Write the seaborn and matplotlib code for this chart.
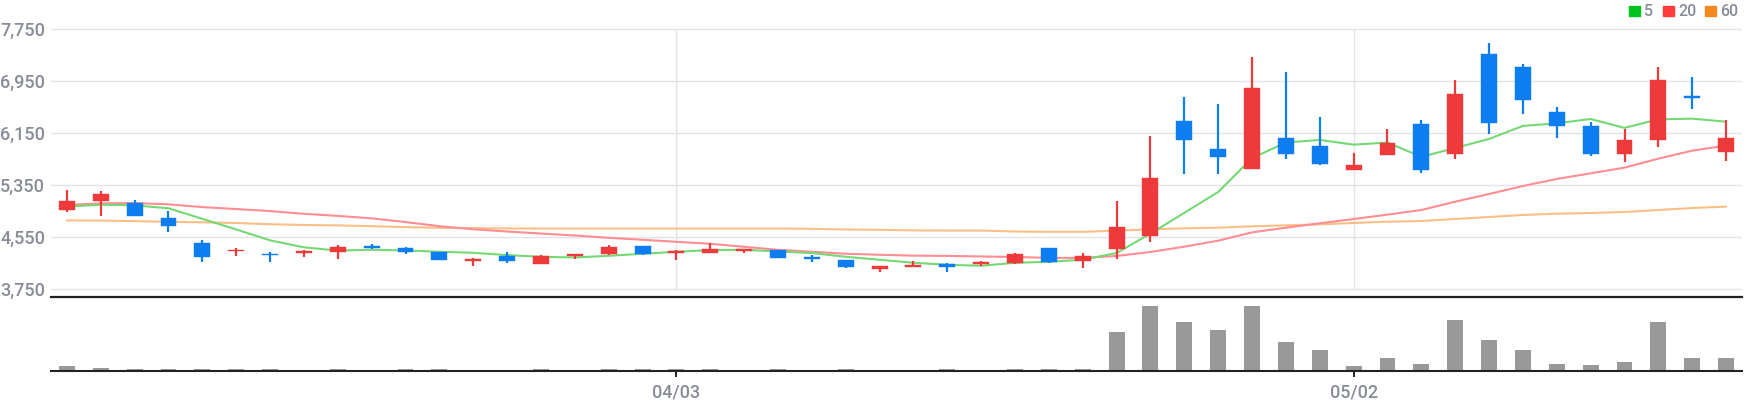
import matplotlib
matplotlib.use("Agg")
import matplotlib.pyplot as plt
import matplotlib.patches as mpatches
import numpy as np
import pandas as pd
import seaborn as sns

# ---------------- data ----------------
opens = [4970, 5095, 5075, 4845, 4460, 4330, 4290, 4310, 4325, 4415,
         4385, 4320, 4185, 4260, 4140, 4260, 4290, 4415, 4305, 4305,
         4335, 4350, 4245, 4200, 4060, 4090, 4140, 4140, 4150, 4380,
         4180, 4365, 4565, 6330, 5900, 5590, 6070, 5950, 5580, 5810,
         6280, 5820, 7360, 7160, 6470, 6250, 5820, 6040, 6710, 5860]
highs = [5275, 5260, 5120, 4955, 4505, 4385, 4320, 4355, 4430, 4445,
         4400, 4320, 4230, 4320, 4275, 4290, 4430, 4415, 4350, 4460,
         4370, 4350, 4275, 4200, 4105, 4185, 4155, 4185, 4305, 4380,
         4305, 5100, 6100, 6700, 6590, 7310, 7080, 6390, 5840, 6210,
         6350, 6960, 7530, 7210, 6550, 6310, 6210, 7160, 7010, 6350]
lows = [4940, 4875, 4875, 4620, 4170, 4260, 4170, 4245, 4215, 4370,
        4290, 4200, 4105, 4155, 4140, 4215, 4275, 4275, 4200, 4305,
        4305, 4230, 4170, 4075, 4015, 4090, 4015, 4105, 4135, 4150,
        4075, 4210, 4470, 5520, 5520, 5590, 5750, 5660, 5580, 5810,
        5530, 5750, 6130, 6440, 6070, 5790, 5700, 5930, 6510, 5720]
closes = [5105, 5215, 4875, 4725, 4245, 4355, 4265, 4340, 4400, 4385,
          4320, 4200, 4215, 4185, 4260, 4290, 4400, 4290, 4335, 4370,
          4370, 4230, 4215, 4090, 4105, 4120, 4090, 4170, 4290, 4165,
          4255, 4700, 5460, 6040, 5780, 6840, 5820, 5670, 5650, 5990,
          5580, 6740, 6300, 6650, 6250, 5820, 6040, 6960, 6680, 6070]
volumes = [150, 110, 80, 55, 80, 55, 55, 5, 55, 5,
           55, 55, 5, 5, 55, 5, 55, 55, 55, 55,
           5, 55, 5, 55, 5, 5, 55, 5, 55, 55,
           55, 1170, 1970, 1470, 1250, 1970, 870, 630, 170, 410,
           230, 1550, 950, 650, 230, 200, 270, 1490, 410, 410]
ma5 = [5015, 5045, 5035, 4990, 4828, 4665, 4497, 4390, 4340, 4353,
       4342, 4322, 4306, 4271, 4245, 4234, 4260, 4291, 4322, 4347,
       4352, 4327, 4302, 4245, 4199, 4153, 4122, 4107, 4152, 4168,
       4200, 4303, 4600, 4920, 5240, 5760, 6000, 6040, 5967, 6000,
       5780, 5916, 6055, 6255, 6295, 6361, 6225, 6356, 6366, 6320]
ma20 = [5040, 5065, 5070, 5050, 5008, 4978, 4947, 4905, 4873, 4835,
        4778, 4715, 4667, 4633, 4602, 4572, 4536, 4506, 4475, 4444,
        4398, 4352, 4322, 4291, 4276, 4262, 4258, 4250, 4242, 4228,
        4228, 4257, 4318, 4400, 4492, 4620, 4692, 4759, 4825, 4892,
        4963, 5091, 5209, 5332, 5440, 5527, 5614, 5752, 5875, 5952]
ma60 = [4804, 4801, 4792, 4782, 4774, 4763, 4745, 4733, 4727, 4715,
        4700, 4690, 4685, 4680, 4679, 4679, 4679, 4679, 4679, 4679,
        4679, 4679, 4674, 4664, 4659, 4650, 4648, 4648, 4633, 4628,
        4628, 4646, 4666, 4682, 4692, 4713, 4728, 4743, 4764, 4784,
        4794, 4825, 4856, 4887, 4907, 4917, 4933, 4963, 4994, 5015]
price_ticks = [3750, 4550, 5350, 6150, 6950, 7750]
price_tick_labels = ["3,750", "4,550", "5,350", "6,150", "6,950", "7,750"]
date_tick_idx = [18, 38]
date_tick_labels = ["04/03", "05/02"]
legend_labels = ["5", "20", "60"]

# ---------------- style ----------------
sns.set_theme(style="white")
plt.rcParams["font.family"] = ["Roboto", "DejaVu Sans"]

W, H = 1744, 400
fig = plt.figure(figsize=(W / 100, H / 100), dpi=100)

def fx(px):
    return px / W

def fy(py):
    return 1 - py / H

LABEL_C = "#878c97"
GRID_C = "#e1e3e8"
UP_C = "#ef3a3b"
DOWN_C = "#0d7def"

left, right = 51, 1742
ax = fig.add_axes([fx(left), fy(297), fx(right - left), 297 / H])
axv = fig.add_axes([fx(left), fy(371.3), fx(right - left), (371.3 - 297) / H])

n = len(closes)
idx = np.arange(n)
df = pd.DataFrame({"i": idx, "open": opens, "high": highs, "low": lows,
                   "close": closes, "vol": volumes,
                   "ma5": ma5, "ma20": ma20, "ma60": ma60})

# moving averages (under candles)
for col, c in [("ma60", "#fbbf86"), ("ma20", "#ff8d92"), ("ma5", "#74d974")]:
    sns.lineplot(data=df, x="i", y=col, ax=ax, color=c, lw=1.5, zorder=2)

# candles
up = df["close"] >= df["open"]
colors = np.where(up, UP_C, DOWN_C)
body_bottom = np.minimum(df["open"], df["close"])
body_h = np.abs(df["close"] - df["open"])
ax.vlines(df["i"], df["low"], df["high"], colors=colors, lw=1.6, zorder=3)
ax.bar(df["i"], body_h, bottom=body_bottom, width=0.47, color=colors,
       edgecolor=colors, linewidth=0.3, zorder=4)

# price axis formatting
ax.set_xlim(-0.47, n - 1 + 0.47)
ax.set_ylim(3627, 8189)
ax.set_yticks(price_ticks)
ax.set_yticklabels(price_tick_labels, fontweight="medium")
ax.yaxis.grid(True, color=GRID_C, lw=1.0)
ax.xaxis.grid(False)
ax.vlines(date_tick_idx, price_ticks[0], price_ticks[-1], colors=GRID_C, lw=1.0, zorder=1)
ax.set_xticks([])
ax.set_xlabel("")
ax.set_ylabel("")
ax.tick_params(axis="y", length=0, pad=4.3, labelsize=13, labelcolor=LABEL_C)
for s in ["top", "left", "right"]:
    ax.spines[s].set_visible(False)
ax.spines["bottom"].set_color("#222222")
ax.spines["bottom"].set_linewidth(1.6)
ax.spines["bottom"].set_zorder(6)

# volume
sns.barplot(data=df, x="i", y="vol", ax=axv, color="#999999", width=0.47,
            native_scale=True, saturation=1, linewidth=0, edgecolor="none",
            zorder=2)
axv.set_xlim(-0.47, n - 1 + 0.47)
axv.set_ylim(0, 2229)
axv.set_yticks([])
axv.set_xticks(date_tick_idx)
axv.set_xticklabels(date_tick_labels, fontweight="medium")
axv.set_xlabel("")
axv.set_ylabel("")
axv.tick_params(axis="x", length=4.5, width=1.4, color="#222222", pad=4.0,
                labelsize=13, labelcolor=LABEL_C, bottom=True, direction="out")
for s in ["top", "left", "right"]:
    axv.spines[s].set_visible(False)
axv.spines["bottom"].set_color("#222222")
axv.spines["bottom"].set_linewidth(1.5)
axv.patch.set_alpha(0)

# legend (top-right)
leg_items = [(1629, "#00c31e", 1644), (1663, "#ff3b3b", 1678), (1705, "#f5891f", 1720)]
for (sx, c, tx), lab in zip(leg_items, legend_labels):
    fig.patches.append(mpatches.Rectangle((fx(sx), fy(16)), fx(11), 10.5 / H,
                                          transform=fig.transFigure, color=c))
    fig.text(fx(tx), fy(11), lab, ha="left", va="center", fontsize=11.5,
             color=LABEL_C, fontweight="medium")

fig.savefig("out.png", dpi=100)
